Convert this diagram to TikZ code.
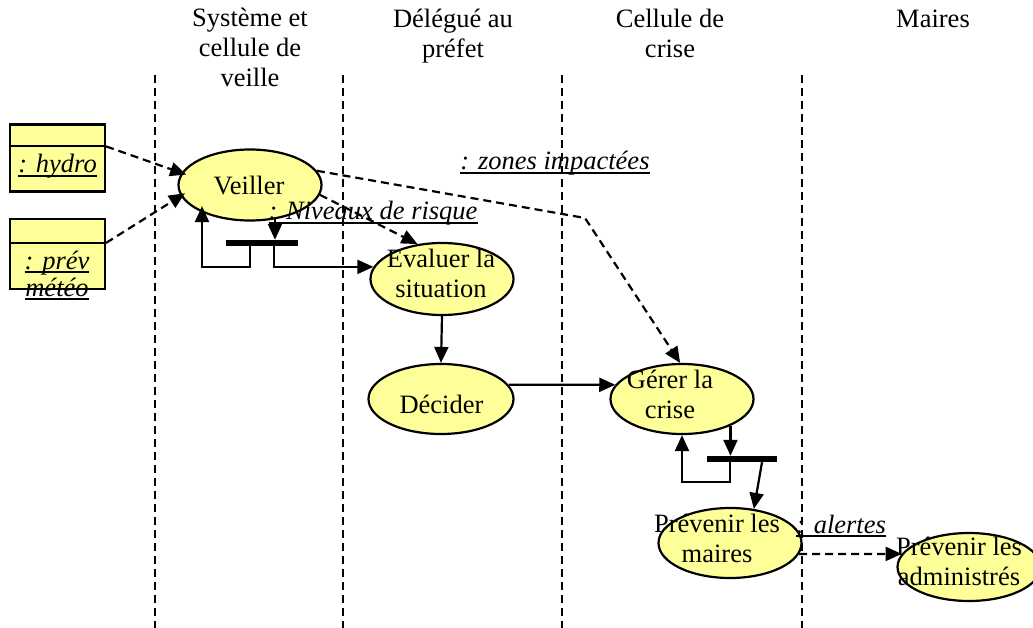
\documentclass[tikz,border=0pt]{standalone}
\usepackage{fontspec}
\setmainfont{Liberation Serif}
\usetikzlibrary{shapes.geometric,arrows.meta,calc}
\definecolor{actyellow}{HTML}{FFFF99}
\newcommand\ulit[1]{\setbox0\hbox{\itshape #1}\rlap{\rule[-4pt]{\wd0}{1.8pt}}\box0}
\begin{document}
\begin{tikzpicture}[x=1pt,y=-1pt,
  every node/.style={font=\fontsize{26.5}{30}\selectfont, inner sep=0pt},
  act/.style={ellipse, draw, line width=2.2pt, fill=actyellow},
  lane/.style={line width=2.2pt, dash pattern=on 8pt off 5pt},
  arr/.style={line width=2.2pt, -{Triangle[length=16pt,width=14pt]}},
  darr/.style={arr, dash pattern=on 8pt off 5pt},
  forkbar/.style={fill=black, minimum height=6pt},
  obj/.style={draw, line width=2.2pt, fill=actyellow, minimum width=95pt},
  txt/.style={align=center, anchor=base},
]
\path[use as bounding box, clip] (0,0) rectangle (1033,628);

% headers (anchor = baseline of last line)
\node[txt] (h1) at (250,87) {Système et\\cellule de\\veille};
\node[txt] (h2) at (453,58) {Délégué au\\préfet};
\node[txt] (h3) at (670,58) {Cellule de\\crise};
\node[txt] (h4) at (933,28) {Maires};

% lanes
\draw[lane] (155,75) -- (155,628);
\draw[lane] (343,75) -- (343,628);
\draw[lane] (562,75) -- (562,628);
\draw[lane] (802,75) -- (802,628);

% object boxes
\node[obj, minimum height=67pt] (hydro) at (57.5,158) {};
\coordinate (hport) at ($(hydro.north east)+(0,23)$);
\draw[line width=2.2pt] (hydro.west |- hport) -- (hport);
\node[obj, minimum height=70pt] (prev) at (57.5,254) {};
\coordinate (pport) at ($(prev.north east)+(0,25)$);
\draw[line width=2.2pt] (prev.west |- pport) -- (pport);

% activities
\node[act, minimum width=143pt, minimum height=71pt] (veiller) at (250,185) {};
\node[act, minimum width=143pt, minimum height=72pt] (evaluer) at (442,279) {};
\node[act, minimum width=145pt, minimum height=70pt] (decider) at (441,399) {};
\node[act, minimum width=143pt, minimum height=70pt] (gerer) at (682,399) {};
\node[act, minimum width=143pt, minimum height=70pt] (maires) at (730,543) {};
\node[act, minimum width=143pt, minimum height=68pt] (admin) at (969,567) {};

% fork bars
\node[forkbar, minimum width=72pt] (fork1) at (262,243) {};
\node[forkbar, minimum width=70pt] (fork2) at (742,459) {};

% helper coordinates
\coordinate (bend) at (585,218);
\coordinate (c1) at (274,267);
\coordinate (c2) at (250,267);
\coordinate (c3) at (202,267);
\coordinate (c5) at (730,482);
\coordinate (c6) at (682,482);
\coordinate (c7) at (762,461);

% connectors
\draw[darr, shorten >=-5pt] (hport) -- (veiller.170);
\draw[darr, shorten >=-5pt] (pport) -- (veiller.189);
\draw[darr] (veiller.-8) -- (evaluer.125);
\draw[darr] (veiller.12) -- (bend) -- (gerer.93);
\draw[arr] (veiller.-54) -- (veiller.-54 |- fork1.north);
\draw[arr, shorten >=-6pt] (fork1.south -| c2) -- (c2) -- (c3) -- (c3 |- veiller.-151);
\draw[arr] (fork1.south -| c1) |- (evaluer.170);
\draw[arr] (evaluer.south) -- (decider.north);
\draw[arr] (decider.12) -- (gerer.168);
\draw[arr] (gerer.-29) -- (gerer.-29 |- fork2.north);
\draw[arr] (fork2.south -| c5) -- (c5) -- (c6) -- (gerer.south);
\draw[arr] (fork2.south -| c7) -- (maires.55);
\draw[darr] (maires.-9) -- (admin.169);

% texts (multi-line: anchor = baseline of last line)
\node[txt] (veillerT) at (249,195) {Veiller};
\node[txt] (evaluerT) at (441,298) {Evaluer la\\situation};
\node[txt] (deciderT) at (441.5,413) {Décider};
\node[txt] (gererT) at (670,418) {Gérer la\\crise};
\node[txt] (mairesT) at (717,562) {Prévenir les\\maires};
\node[txt] (adminT) at (959,585) {Prévenir les\\administrés};

\node[anchor=base] (lblRisk) at (373,220) {\ulit{: Niveaux de risque}};
\node[anchor=base] (lblZones) at (555,170) {\ulit{: zones impactées}};
\node[anchor=base] (lblAlert) at (841,533) {\ulit{: alertes}};
\node[anchor=base] (hydroT) at (57.5,173) {\ulit{: hydro}};
\node[txt, font=\fontsize{26.5}{27}\selectfont] (prevT) at (57,296) {\ulit{: prév}\\\ulit{météo}};
\end{tikzpicture}
\end{document}
